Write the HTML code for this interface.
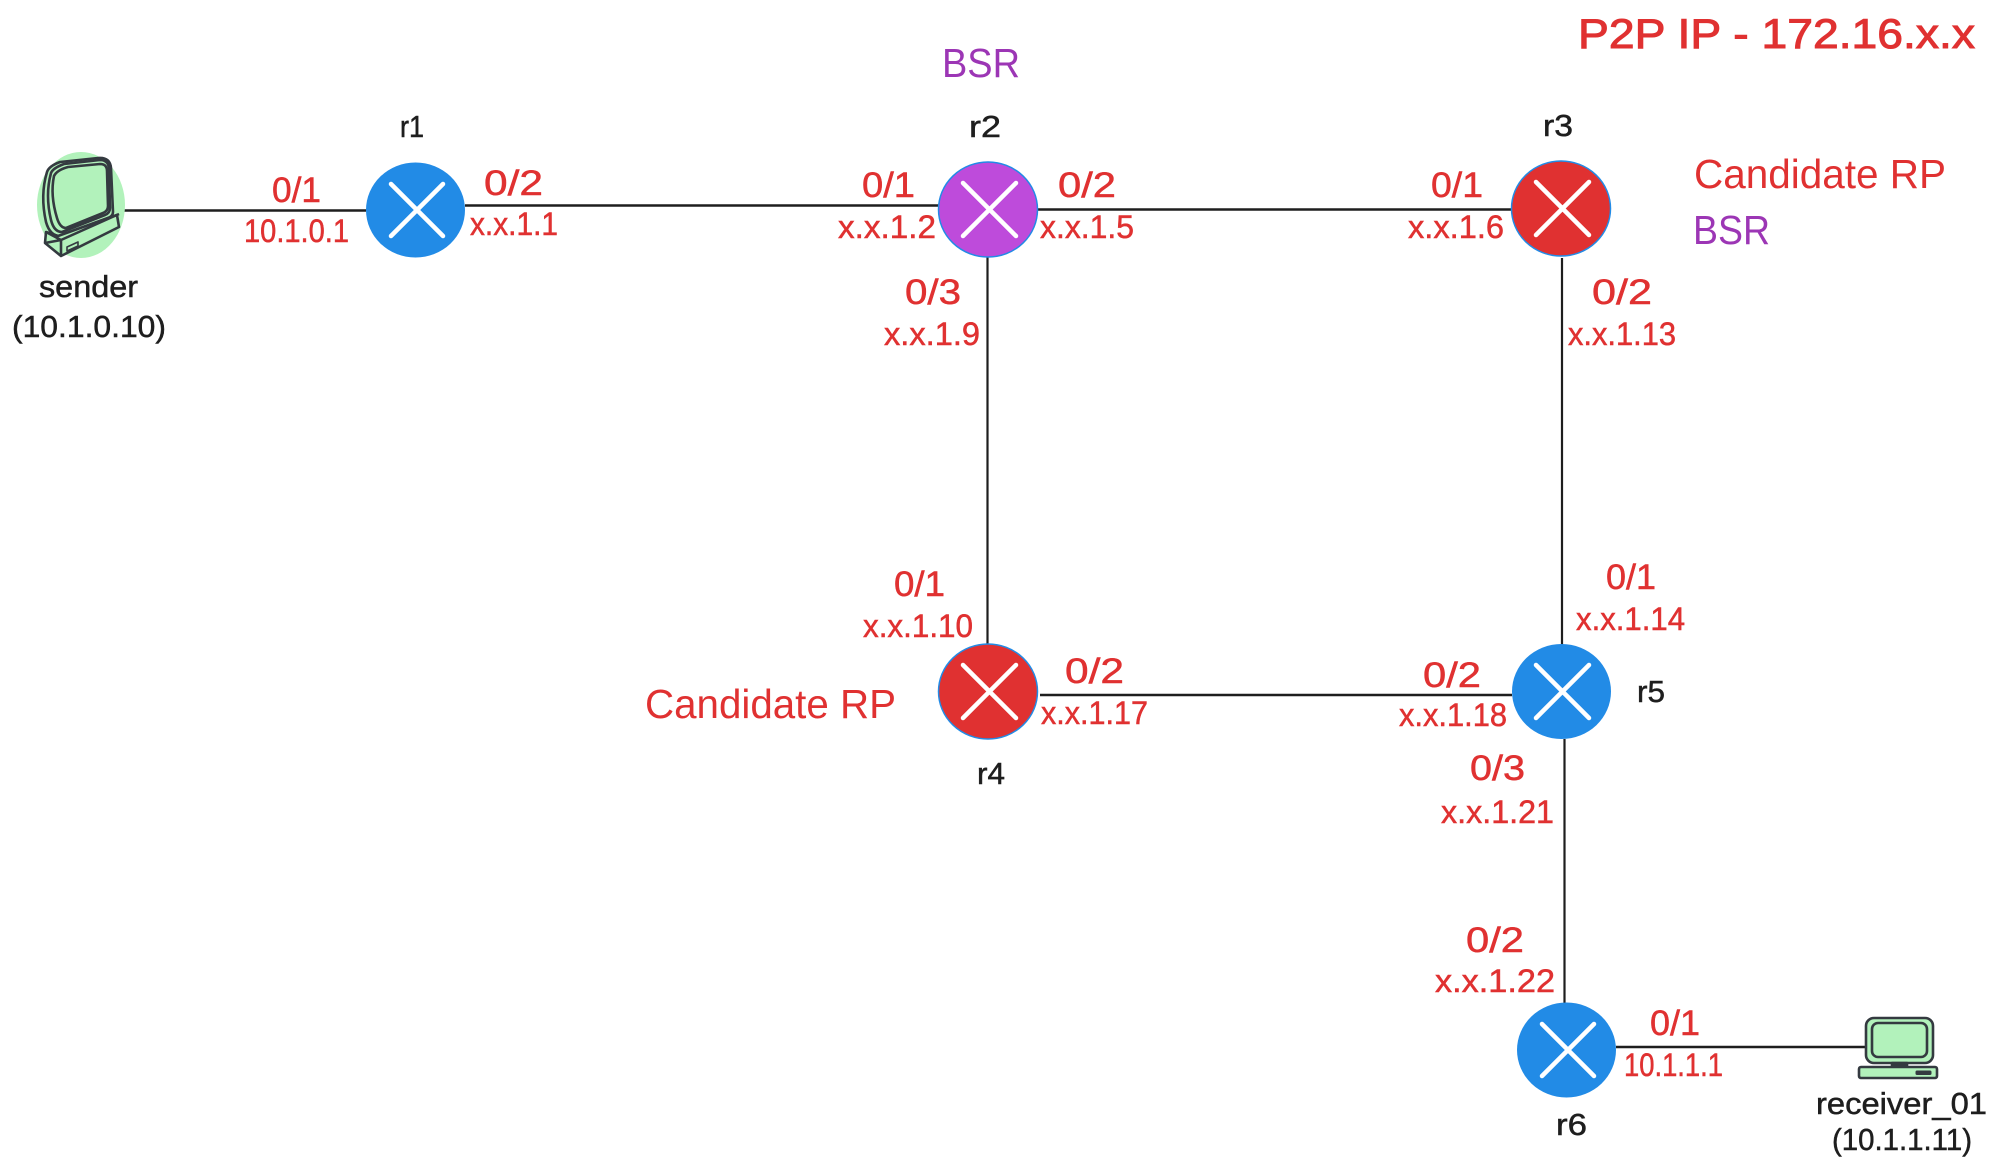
<!DOCTYPE html>
<html>
<head>
<meta charset="utf-8">
<style>
html,body{margin:0;padding:0;background:#fff;width:2000px;height:1176px;overflow:hidden}
svg{display:block}
text{font-family:"Liberation Sans",sans-serif}
.l{font-size:32px;fill:#e03131;stroke:#e03131;stroke-width:.5}
.t{font-size:35px;fill:#e03131;stroke:#e03131;stroke-width:.5}
.n{font-size:31px;fill:#1e1e1e;stroke:#1e1e1e;stroke-width:.5}
.b{font-size:41px;fill:#e03131}
.p{font-size:41px;fill:#9c36b5}
.link{stroke:#1e1e1e;fill:none}
.x{stroke:#fff;stroke-width:4.5;stroke-linecap:round}
.pc{stroke:#343a40;stroke-width:2.6;fill:none;stroke-linejoin:round}
</style>
</head>
<body>
<svg width="2000" height="1176" viewBox="0 0 2000 1176" xmlns="http://www.w3.org/2000/svg">
<rect width="2000" height="1176" fill="#fff"/>

<!-- links -->
<g class="link">
<line x1="124" y1="210.5" x2="366" y2="210.5" stroke-width="2.6"/>
<line x1="465" y1="205.5" x2="939" y2="205.5" stroke-width="2.6"/>
<line x1="1037" y1="209.5" x2="1512" y2="209.5" stroke-width="2.6"/>
<line x1="987.5" y1="257" x2="987.5" y2="644" stroke-width="2.2"/>
<line x1="1562" y1="258" x2="1562" y2="645" stroke-width="2.2"/>
<line x1="1040" y1="695" x2="1512" y2="695" stroke-width="2.6"/>
<line x1="1564.5" y1="739" x2="1564.5" y2="1003" stroke-width="2.2"/>
<line x1="1616" y1="1047" x2="1866" y2="1047" stroke-width="2.6"/>
</g>

<!-- sender -->
<ellipse cx="81" cy="205" rx="44" ry="53" fill="#b2f2bb"/>
<g class="pc">
<path d="M47 172 Q49 166 60 162 L98 158 Q110 157 111 168 L113 212 Q113 216 108 218 L60 236 Q50 236 46 222 Q40 195 47 172Z"/>
<path d="M51 173 Q53 168 64 164 L100 160 Q108 160 109 168 L110 208 Q110 213 105 215 L62 232 Q54 232 51 220 Q45 195 51 173Z"/>
<path d="M54 176 Q57 170 68 167 L100 164 Q107 164 107 171 L108 206 Q108 211 103 213 L66 228 Q60 228 57 218 Q50 195 54 176Z"/>
<path d="M46 232 L58 236 L108 218 L117 215 L119 227 L61 256 L45 243Z" fill="#b2f2bb"/>
<path d="M45 243 L61 240 L119 214"/>
<path d="M46 232 L61 240 L61 256"/>
<path d="M67 247 L78 242 L78 246 L67 251Z" stroke-width="1.6"/>
</g>

<!-- receiver -->
<g class="pc">
<rect x="1866" y="1018" width="67" height="45" rx="8" fill="#b2f2bb"/>
<rect x="1872" y="1023" width="55" height="34" rx="6"/>
<rect x="1892" y="1063" width="15" height="4" fill="#343a40"/>
<rect x="1859" y="1067" width="78" height="11" rx="2" fill="#b2f2bb"/>
<rect x="1916" y="1071" width="15" height="3.5" rx="1" fill="#343a40" stroke-width="1"/>
</g>

<!-- routers -->
<ellipse cx="415.5" cy="210" rx="49.5" ry="47.5" fill="#228be6"/>
<ellipse cx="988" cy="209.5" rx="49.5" ry="47.5" fill="#be4bdb" stroke="#228be6" stroke-width="1.5"/>
<ellipse cx="1561" cy="208.5" rx="49.5" ry="47.5" fill="#e03131" stroke="#228be6" stroke-width="1.5"/>
<ellipse cx="988" cy="691.5" rx="49.5" ry="47.5" fill="#e03131" stroke="#228be6" stroke-width="1.5"/>
<ellipse cx="1561.5" cy="691.5" rx="49.5" ry="47.5" fill="#228be6"/>
<ellipse cx="1566.5" cy="1050" rx="49.5" ry="47.5" fill="#228be6"/>
<g class="x">
<path d="M391 184 L443 236 M443 184 L391 236"/>
<path d="M963 183 L1016 236 M1016 183 L963 236"/>
<path d="M1536 182 L1589 235 M1589 182 L1536 235"/>
<path d="M963 665 L1016 718 M1016 665 L963 718"/>
<path d="M1536 665 L1589 718 M1589 665 L1536 718"/>
<path d="M1542 1024 L1594 1076 M1594 1024 L1542 1076"/>
</g>

<!-- black labels -->
<text class="n" x="400" y="137" textLength="24" lengthAdjust="spacingAndGlyphs">r1</text>
<text class="n" x="969" y="137" textLength="32" lengthAdjust="spacingAndGlyphs">r2</text>
<text class="n" x="1543" y="136" textLength="30" lengthAdjust="spacingAndGlyphs">r3</text>
<text class="n" x="977" y="784" textLength="28" lengthAdjust="spacingAndGlyphs">r4</text>
<text class="n" x="1637" y="702" textLength="28" lengthAdjust="spacingAndGlyphs">r5</text>
<text class="n" x="1556" y="1135" textLength="31" lengthAdjust="spacingAndGlyphs">r6</text>
<text class="n" x="39" y="297" textLength="99" lengthAdjust="spacingAndGlyphs">sender</text>
<text class="n" x="12" y="337" textLength="154" lengthAdjust="spacingAndGlyphs">(10.1.0.10)</text>
<text class="n" x="1816" y="1114" textLength="171" lengthAdjust="spacingAndGlyphs">receiver_01</text>
<text class="n" x="1832" y="1150" textLength="140" lengthAdjust="spacingAndGlyphs">(10.1.1.11)</text>

<!-- red interface labels -->
<text class="t" x="272" y="202" textLength="49" lengthAdjust="spacingAndGlyphs">0/1</text>
<text class="l" x="244" y="242" textLength="105" lengthAdjust="spacingAndGlyphs">10.1.0.1</text>
<text class="t" x="484" y="195" textLength="59" lengthAdjust="spacingAndGlyphs">0/2</text>
<text class="l" x="470" y="235" textLength="88" lengthAdjust="spacingAndGlyphs">x.x.1.1</text>
<text class="t" x="862" y="197" textLength="53" lengthAdjust="spacingAndGlyphs">0/1</text>
<text class="l" x="838" y="238" textLength="98" lengthAdjust="spacingAndGlyphs">x.x.1.2</text>
<text class="t" x="1058" y="197" textLength="58" lengthAdjust="spacingAndGlyphs">0/2</text>
<text class="l" x="1040" y="238" textLength="94" lengthAdjust="spacingAndGlyphs">x.x.1.5</text>
<text class="t" x="1431" y="197" textLength="52" lengthAdjust="spacingAndGlyphs">0/1</text>
<text class="l" x="1408" y="238" textLength="96" lengthAdjust="spacingAndGlyphs">x.x.1.6</text>
<text class="t" x="905" y="304" textLength="56" lengthAdjust="spacingAndGlyphs">0/3</text>
<text class="l" x="884" y="345" textLength="96" lengthAdjust="spacingAndGlyphs">x.x.1.9</text>
<text class="t" x="1592" y="304" textLength="60" lengthAdjust="spacingAndGlyphs">0/2</text>
<text class="l" x="1568" y="345" textLength="108" lengthAdjust="spacingAndGlyphs">x.x.1.13</text>
<text class="t" x="894" y="596" textLength="51" lengthAdjust="spacingAndGlyphs">0/1</text>
<text class="l" x="863" y="637" textLength="110" lengthAdjust="spacingAndGlyphs">x.x.1.10</text>
<text class="t" x="1606" y="589" textLength="50" lengthAdjust="spacingAndGlyphs">0/1</text>
<text class="l" x="1576" y="630" textLength="109" lengthAdjust="spacingAndGlyphs">x.x.1.14</text>
<text class="t" x="1065" y="683" textLength="59" lengthAdjust="spacingAndGlyphs">0/2</text>
<text class="l" x="1041" y="724" textLength="107" lengthAdjust="spacingAndGlyphs">x.x.1.17</text>
<text class="t" x="1423" y="687" textLength="58" lengthAdjust="spacingAndGlyphs">0/2</text>
<text class="l" x="1399" y="726" textLength="108" lengthAdjust="spacingAndGlyphs">x.x.1.18</text>
<text class="t" x="1470" y="780" textLength="55" lengthAdjust="spacingAndGlyphs">0/3</text>
<text class="l" x="1441" y="823" textLength="113" lengthAdjust="spacingAndGlyphs">x.x.1.21</text>
<text class="t" x="1466" y="952" textLength="58" lengthAdjust="spacingAndGlyphs">0/2</text>
<text class="l" x="1435" y="992" textLength="120" lengthAdjust="spacingAndGlyphs">x.x.1.22</text>
<text class="t" x="1650" y="1035" textLength="50" lengthAdjust="spacingAndGlyphs">0/1</text>
<text class="l" x="1624" y="1076" textLength="99" lengthAdjust="spacingAndGlyphs">10.1.1.1</text>

<!-- annotations -->
<text class="p" x="942" y="77" textLength="78" lengthAdjust="spacingAndGlyphs">BSR</text>
<text class="p" x="1693" y="244" textLength="77" lengthAdjust="spacingAndGlyphs">BSR</text>
<text class="b" x="1694" y="188" textLength="252" lengthAdjust="spacingAndGlyphs">Candidate RP</text>
<text class="b" x="645" y="718" textLength="251" lengthAdjust="spacingAndGlyphs">Candidate RP</text>
<text class="b" x="1578" y="48" textLength="397" lengthAdjust="spacingAndGlyphs" style="font-size:42px;stroke:#e03131;stroke-width:1">P2P IP - 172.16.x.x</text>
</svg>
</body>
</html>
